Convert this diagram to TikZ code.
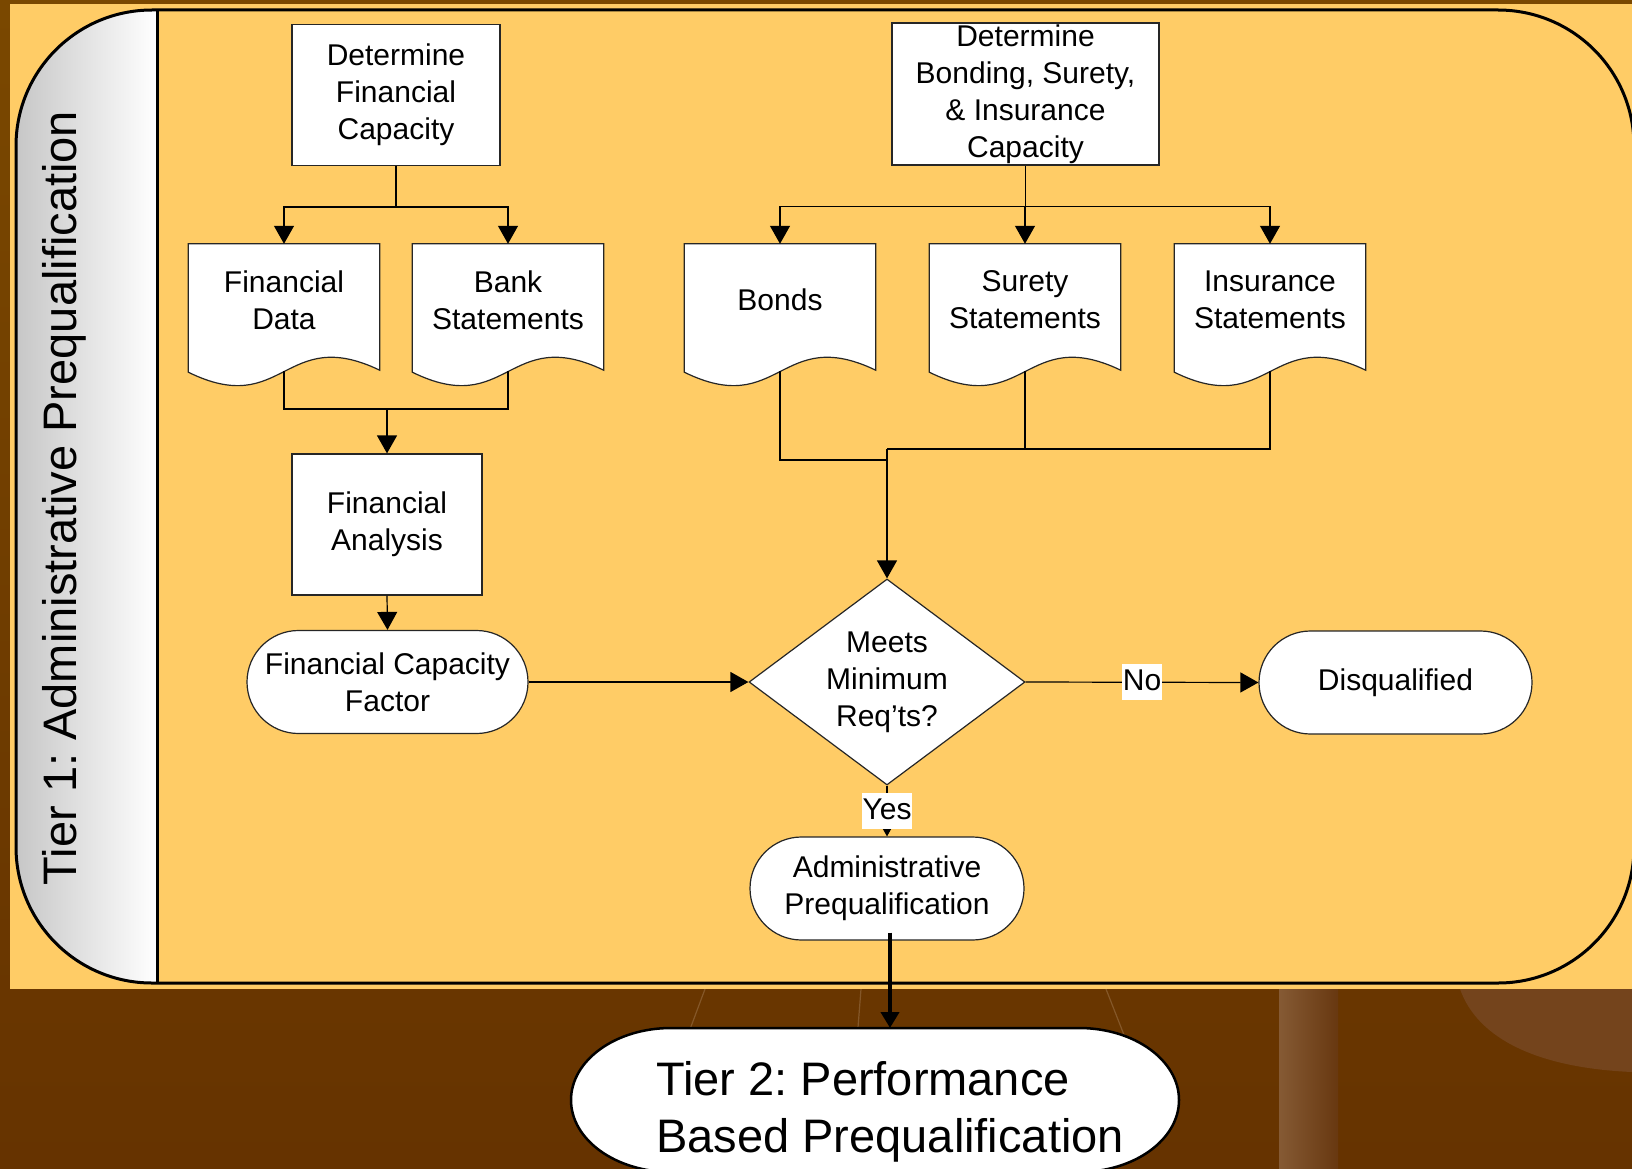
\documentclass[tikz,border=0pt]{standalone}
\usepackage{fontspec}
\setmainfont{Liberation Sans}
\usetikzlibrary{arrows.meta,shapes.geometric,shapes.misc,calc}

\definecolor{slideorange}{RGB}{255,204,102}
\definecolor{browntop}{RGB}{122,72,0}
\definecolor{brownbot}{RGB}{102,51,0}
\definecolor{pillarlight}{RGB}{133,90,52}
\definecolor{pillardark}{RGB}{104,56,16}
\definecolor{blobbrown}{RGB}{116,68,28}
\definecolor{floorline}{RGB}{160,120,80}

\newcommand{\flowfont}{\fontsize{30}{37}\selectfont}
\newcommand{\tierfont}{\fontsize{47}{57}\selectfont}
\frenchspacing

\pgfdeclarelayer{back}
\pgfsetlayers{back,main}

\tikzset{
  boxline/.style={draw=black!85, line width=1.2pt},
  procbox/.style={boxline, fill=white, rectangle, align=center, font=\flowfont, inner sep=1pt},
  termbox/.style={boxline, fill=white, rounded rectangle, align=center, font=\flowfont, minimum height=103pt, inner sep=1pt},
  decbox/.style={boxline, fill=white, diamond, aspect=1.34, align=center, font=\flowfont, inner sep=1pt},
  doctext/.style={rectangle, align=center, font=\flowfont, minimum width=191pt, minimum height=112pt, inner sep=0pt},
  docshape/.style={boxline, fill=white},
  conn/.style={black, line width=1.2pt},
  arr/.style={conn, -{Triangle[length=18pt,width=20pt]}},
  bigarr/.style={black, line width=4.5pt, -{Triangle[length=16pt,width=18pt]}},
  lbl/.style={fill=white, font=\flowfont, inner xsep=1pt, inner ysep=2pt, text height=24pt, text depth=8pt},
  tierline/.style={black, line width=3pt},
  tiertext/.style={font=\tierfont, inner sep=0pt},
}

\begin{document}
\begin{tikzpicture}[x=1pt, y=-1pt]
  \useasboundingbox (0,0) rectangle (1632,1169);

  % slide backdrop and tier frame
  \begin{pgfonlayer}{back}
    \shade[top color=browntop, bottom color=brownbot] (0,0) rectangle (1632,1169);
    \shade[left color=pillarlight, right color=pillardark] (1279,989) rectangle (1338,1169);
    \fill[blobbrown] (1460,989) .. controls (1478,1040) and (1540,1068) .. (1632,1072) -- (1632,989) -- cycle;
    \draw[floorline, opacity=0.5, line width=1.2pt] (705,989) -- (686,1040);
    \draw[floorline, opacity=0.5, line width=1.2pt] (861,989) -- (857,1040);
    \draw[floorline, opacity=0.5, line width=1.2pt] (1106,989) -- (1126,1040);
    \fill[slideorange] (10,4) rectangle (1632,989);
    \begin{scope}
      \clip[rounded corners=136pt] (16,10) rectangle (1634,983);
      \shade[left color=black!22, right color=white] (16,10) rectangle (157,983);
    \end{scope}
    \draw[tierline, rounded corners=136pt] (16,10) rectangle (1634,983);
    \draw[tierline] (157,10) -- (157,983);
    % tier 2 terminator
    \filldraw[fill=white, draw=black, line width=2.5pt] (671,1028) -- (1079,1028)
      arc[start angle=90, end angle=-90, x radius=100pt, y radius=72pt] -- (671,1172)
      arc[start angle=270, end angle=90, x radius=100pt, y radius=72pt] -- cycle;
  \end{pgfonlayer}

  \node[tiertext, rotate=90, anchor=base] (tier1) at (76,498) {Tier 1: Administrative Prequalification};
  \node[tiertext, anchor=north west, align=left] (tier2) at (656,1061) {Tier 2: Performance\\Based Prequalification};
  \coordinate (tiertop) at (890,1028);

  % boxes
  \node[procbox, minimum width=208pt, minimum height=141pt] (fincap) at (396,95) {Determine\\Financial\\Capacity};
  \node[procbox, minimum width=267pt, minimum height=142pt] (detbond) at (1025.5,94) {Determine\\Bonding, Surety,\\\& Insurance\\Capacity};

  \foreach \n/\x/\txt in {fdata/284/{Financial\\Data}, bank/508/{Bank\\Statements}, bonds/780/{Bonds},
      surety/1025/{Surety\\Statements}, insur/1270/{Insurance\\Statements}}{
    \node[doctext] (\n) at (\x,300) {\txt};
    \coordinate (\n-b) at (\x,371);
  }
  \begin{pgfonlayer}{back}
    \foreach \n in {fdata,bank,bonds,surety,insur}
      \filldraw[docshape] (\n.north west) -- (\n.north east) -- ($(\n.south east)+(0,14)$)
        .. controls ($(\n.south)+(0,-32)$) and ($(\n.south)+(0,63)$) .. ($(\n.south west)+(0,16)$) -- cycle;
  \end{pgfonlayer}

  \node[procbox, minimum width=190pt, minimum height=141pt] (fanal) at (387,524.5) {Financial\\Analysis};
  \node[termbox, minimum width=283pt] (fcf) at (387.5,682) {Financial Capacity\\Factor};
  \node[decbox, minimum width=276pt, minimum height=206pt] (dec) at (887,682) {Meets\\Minimum\\Req’ts?};
  \node[termbox, minimum width=275pt] (disq) at (1395.5,682.5) {Disqualified};
  \node[termbox, minimum width=276pt] (adm) at (887,888.5) {Administrative\\Prequalification};

  % connectors
  \draw[conn] (fincap.south) -- ++(0,41) coordinate (fsplit);
  \draw[arr] (fsplit) -| (fdata.north);
  \draw[arr] (fsplit) -| (bank.north);
  \draw[conn] (fdata-b) -- ++(0,38) -| (bank-b);
  \draw[arr] ($(fanal.north)+(0,-45)$) -- (fanal.north);
  \draw[arr] (fanal.south) -- (fcf.north);
  \draw[arr] (fcf.east) -- (dec.west);

  \draw[conn] (detbond.south) -- ++(0,41) coordinate (bsplit);
  \draw[arr] (bsplit) -| (bonds.north);
  \draw[arr] (bsplit) -| (surety.north);
  \draw[arr] (bsplit) -| (insur.north);
  \draw[conn] (surety-b) -- ++(0,78) coordinate (sjoin);
  \coordinate (bjoin) at (dec.north |- sjoin);
  \draw[conn] (insur-b) |- (bjoin);
  \draw[conn] (bonds-b) |- ($(bjoin)+(0,11)$);
  \draw[arr] (bjoin) -- (dec.north);

  \draw[arr] (dec.east) -- (disq.west) node[lbl, midway] {No};
  \draw[arr] (dec.south) -- (adm.north) node[lbl, midway] {Yes};
  \draw[bigarr, shorten <=-8pt] (adm.south -| tiertop) -- (tiertop);
\end{tikzpicture}
\end{document}
